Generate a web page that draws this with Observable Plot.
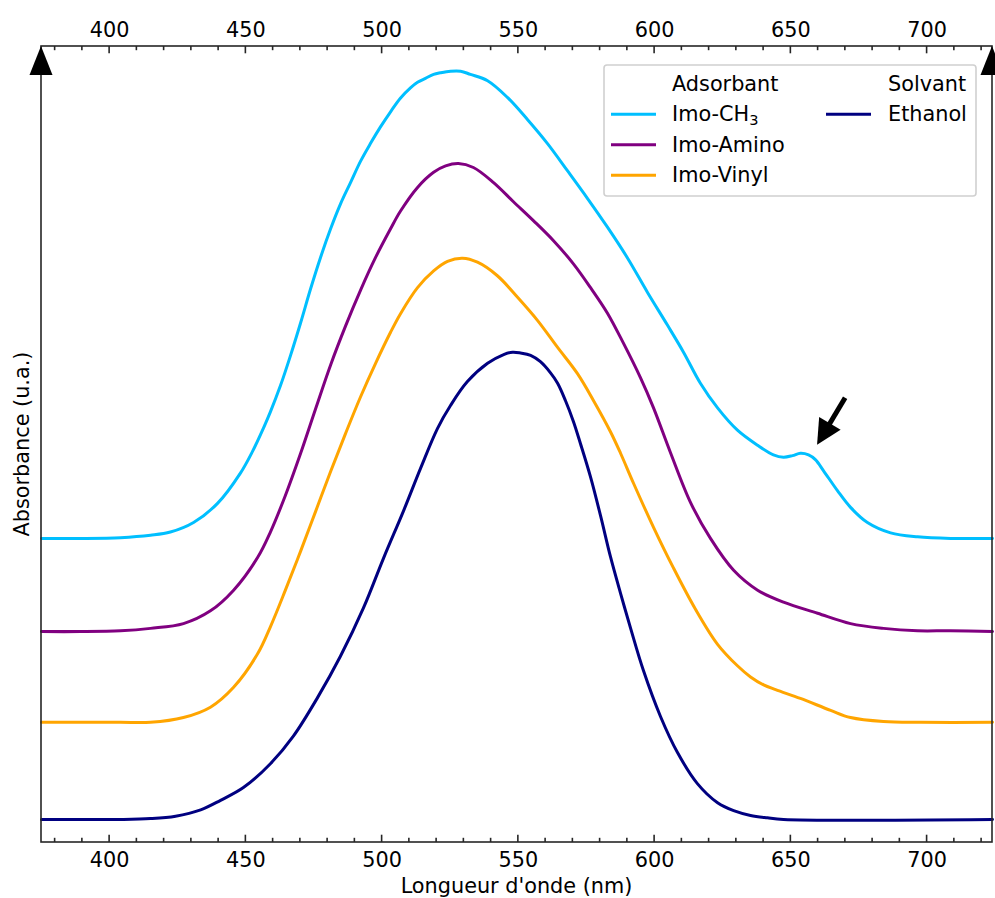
<!DOCTYPE html>
<html>
<head>
<meta charset="utf-8">
<script src="https://cdn.jsdelivr.net/npm/d3@7"></script>
<script src="https://cdn.jsdelivr.net/npm/@observablehq/plot@0.6"></script>
<style>
  html, body { margin: 0; padding: 0; background: #fff; overflow: hidden; }
  #chart svg { display: block; }
</style>
</head>
<body>
<div id="chart"></div>
<script>
// ---- Data (wavelength in nm, absorbance in arbitrary units, curves offset) ----
const ch3Nm = [375,389.3,404,415,422.3,430.8,439.6,448,452.4,456.5,459,462.7,466.4,470.1,473.7,477.4,481.1,484.7,488.4,492.1,495.7,499.4,503.1,506.7,510.4,513,515.9,518.9,521.4,525.1,528.8,532.4,538.7,546,553.4,560.7,568,575.4,582.7,590.1,597.4,604.7,610.6,616.8,623.1,630.4,637.8,643.6,647.3,650.6,653.5,656.5,659,662,667.1,671.9,678.1,686.6,696.5,708.6,724];
const ch3Abs = [.382,.382,.383,.386,.390,.402,.426,.464,.491,.521,.541,.574,.612,.653,.695,.735,.771,.802,.829,.856,.878,.899,.918,.935,.948,.955,.960,.965,.967,.969,.969,.965,.957,.936,.908,.878,.844,.809,.773,.734,.691,.650,.616,.577,.546,.518,.499,.487,.484,.486,.489,.487,.481,.467,.442,.421,.402,.389,.384,.382,.382];

const aminoNm = [375,389.3,404,415,427.1,437,445.5,454.3,459,464.5,470.1,475.6,481.1,486.6,492.1,497.6,503.1,506.7,513,518.9,523.3,528,533.5,540.9,548.2,555.6,562.9,570.2,576.5,582.7,588.6,594.8,599.6,605.8,613.2,620.5,629,637.8,647.3,659.8,671.9,684,696.5,708.6,724];
const aminoAbs = [.265,.265,.266,.269,.275,.291,.317,.358,.390,.436,.489,.545,.600,.649,.694,.735,.771,.793,.823,.842,.850,.853,.848,.829,.805,.781,.756,.727,.697,.665,.627,.584,.546,.490,.427,.382,.342,.317,.302,.288,.275,.269,.266,.266,.265];

const vinylNm = [375,389.3,404,415,427.1,437,445.5,454.3,459,464.5,470.1,475.6,481.1,486.6,492.1,497.6,503.1,506.7,513,518.9,524,529.5,535,542.3,549.7,557,564.4,571.7,577.6,583.8,587.5,592.3,599.6,606.9,615,623.1,630.4,635.2,640,644.4,653.5,664.6,671.9,684,697.6,724];
const vinylAbs = [.151,.151,.151,.151,.157,.170,.195,.237,.271,.317,.366,.416,.466,.514,.560,.602,.641,.664,.697,.718,.730,.734,.729,.712,.685,.656,.622,.589,.555,.516,.489,.451,.396,.345,.293,.249,.222,.208,.198,.192,.181,.166,.157,.152,.151,.151];

const ethanolNm = [375,389.3,404,415,424.2,433.4,440.7,449.1,459,467.5,476.3,484.7,493.2,500.5,507.9,514.1,520.3,525.1,531.3,538.7,544.6,547.9,550.8,554.5,558.1,561.8,564.4,567.3,570.2,572.8,576.5,580.2,583.8,587.5,591.2,595.9,602.2,608.4,615.7,623.1,629,635.2,641.4,647.3,724];
const ethanolAbs = [.029,.029,.029,.030,.033,.041,.053,.069,.099,.134,.182,.234,.295,.357,.417,.470,.520,.549,.579,.602,.613,.616,.615,.612,.604,.590,.577,.555,.529,.501,.459,.410,.359,.313,.269,.216,.158,.113,.074,.050,.040,.034,.031,.029,.029];

const seriesNames = ["Imo-CH3", "Imo-Amino", "Imo-Vinyl", "Ethanol"];
const seriesColors = ["#00BFFF", "#800080", "#FFA500", "#000080"];
const adsorbantNames = ["Imo-CH3", "Imo-Amino", "Imo-Vinyl"];
const solvantNames = ["Ethanol"];
const legendTitles = ["Adsorbant", "Solvant"];

const majorTicks = [400, 450, 500, 550, 600, 650, 700];
const minorTicks = [380, 390, 410, 420, 430, 440, 460, 470, 480, 490, 510, 520, 530, 540, 560, 570, 580, 590, 610, 620, 630, 640, 660, 670, 680, 690, 710, 720];
const xDomain = [375, 724];
const yDomain = [0, 1];
const xLabel = "Longueur d'onde (nm)";
const yLabel = "Absorbance (u.a.)";
// annotation arrow pointing at the shoulder of Imo-CH3 (tail -> tip, data coordinates)
const arrowTail = [670.1, 0.558];
const arrowTip = [659.8, 0.499];

// ---- Build table ----
const seriesNm = [ch3Nm, aminoNm, vinylNm, ethanolNm];
const seriesAbs = [ch3Abs, aminoAbs, vinylAbs, ethanolAbs];
const rows = [];
seriesNames.forEach((name, i) => {
  seriesNm[i].forEach((nm, j) => rows.push({nm, abs: seriesAbs[i][j], series: name}));
});
const colorOf = Object.fromEntries(seriesNames.map((n, i) => [n, seriesColors[i]]));

// ---- Layout ----
const W = 995, H = 898;
const FONT = "'DejaVu Sans', sans-serif";
const FS = 20.8;

function decorations(index, scales, values, dimensions) {
  const x = scales.x, y = scales.y;
  const {width, height, marginLeft, marginRight, marginTop, marginBottom} = dimensions;
  const L = marginLeft, R = width - marginRight, T = marginTop, B = height - marginBottom;
  const g = d3.create("svg:g").attr("font-family", FONT).attr("font-size", FS).attr("text-anchor", "start");

  // frame
  g.append("rect").attr("x", L).attr("y", T).attr("width", R - L).attr("height", B - T)
    .attr("fill", "none").attr("stroke", "#262626").attr("stroke-width", 1.6);

  // inward ticks top & bottom
  const tk = g.append("g").attr("stroke", "#262626").attr("stroke-width", 1.6);
  for (const v of majorTicks) {
    const px = x(v);
    tk.append("line").attr("x1", px).attr("x2", px).attr("y1", B).attr("y2", B - 7.3);
    tk.append("line").attr("x1", px).attr("x2", px).attr("y1", T).attr("y2", T + 7.3);
  }
  for (const v of minorTicks) {
    const px = x(v);
    tk.append("line").attr("x1", px).attr("x2", px).attr("y1", B).attr("y2", B - 4.2);
    tk.append("line").attr("x1", px).attr("x2", px).attr("y1", T).attr("y2", T + 4.2);
  }

  // axis arrows at top corners
  for (const cx of [L, R]) {
    g.append("path").attr("d", `M${cx},${T}L${cx - 11.5},${T + 29}L${cx + 11.5},${T + 29}Z`).attr("fill", "#000");
  }

  // annotation arrow
  const tx = x(arrowTail[0]), ty = y(arrowTail[1]);
  const hx = x(arrowTip[0]), hy = y(arrowTip[1]);
  const len = Math.hypot(hx - tx, hy - ty);
  const ux = (hx - tx) / len, uy = (hy - ty) / len;
  const nx = -uy, ny = ux;
  const hl = 25, hw = 12.5;
  const bx = hx - ux * hl, by = hy - uy * hl;
  g.append("line").attr("x1", tx).attr("y1", ty).attr("x2", bx + ux * 2).attr("y2", by + uy * 2)
    .attr("stroke", "#000").attr("stroke-width", 5);
  g.append("path").attr("d", `M${hx},${hy}L${bx + nx * hw},${by + ny * hw}L${bx - nx * hw},${by - ny * hw}Z`).attr("fill", "#000");

  // legend
  const bx0 = R - 388, by0 = T + 19, bw = 372, bh = 131;
  const lg = g.append("g").attr("text-anchor", "start");
  lg.append("rect").attr("x", bx0).attr("y", by0).attr("width", bw).attr("height", bh)
    .attr("rx", 3).attr("fill", "#fff").attr("fill-opacity", 0.85).attr("stroke", "#d0d0d0").attr("stroke-width", 1.6);
  const rowBase = [by0 + 25.7, by0 + 56, by0 + 86.5, by0 + 117];
  // column 1
  lg.append("text").attr("x", bx0 + 68).attr("y", rowBase[0]).attr("fill", "#000").text(legendTitles[0]);
  adsorbantNames.forEach((name, i) => {
    const yb = rowBase[i + 1];
    lg.append("line").attr("x1", bx0 + 7).attr("x2", bx0 + 52).attr("y1", yb - 6.7).attr("y2", yb - 6.7)
      .attr("stroke", colorOf[name]).attr("stroke-width", 3);
    const t = lg.append("text").attr("x", bx0 + 68).attr("y", yb).attr("fill", "#000");
    const m = name.match(/^(.*?)(\d+)$/);
    if (m) {
      t.append("tspan").text(m[1]);
      t.append("tspan").attr("font-size", FS * 0.7).attr("dy", 4).text(m[2]);
    } else t.text(name);
  });
  // column 2
  lg.append("text").attr("x", bx0 + 284).attr("y", rowBase[0]).attr("fill", "#000").text(legendTitles[1]);
  solvantNames.forEach((name, i) => {
    const yb = rowBase[i + 1];
    lg.append("line").attr("x1", bx0 + 222).attr("x2", bx0 + 267).attr("y1", yb - 6.7).attr("y2", yb - 6.7)
      .attr("stroke", colorOf[name]).attr("stroke-width", 3);
    lg.append("text").attr("x", bx0 + 284).attr("y", yb).attr("fill", "#000").text(name);
  });

  // axis titles
  g.append("text").attr("x", (L + R) / 2).attr("y", H - 5).attr("text-anchor", "middle").attr("fill", "#000").text(xLabel);
  g.append("text").attr("transform", `translate(28.5,${(T + B) / 2}) rotate(-90)`)
    .attr("text-anchor", "middle").attr("fill", "#000").text(yLabel);

  return g.node();
}

const chart = Plot.plot({
  width: W,
  height: H,
  marginLeft: 41,
  marginRight: 3,
  marginTop: 46,
  marginBottom: 56,
  style: {fontFamily: FONT, fontSize: FS + "px", color: "#000", background: "#fff"},
  x: {domain: xDomain},
  y: {domain: yDomain, axis: null},
  color: {domain: seriesNames, range: seriesColors},
  marks: [
    Plot.line(rows, {x: "nm", y: "abs", z: "series", stroke: "series", strokeWidth: 3, curve: "catmull-rom"}),
    Plot.axisX({anchor: "bottom", ticks: majorTicks, tickSize: 0, tickPadding: 10, label: null, fontSize: FS}),
    Plot.axisX({anchor: "top", ticks: majorTicks, tickSize: 0, tickPadding: 10, label: null, fontSize: FS}),
    decorations
  ]
});
document.getElementById("chart").appendChild(chart);
</script>
</body>
</html>
